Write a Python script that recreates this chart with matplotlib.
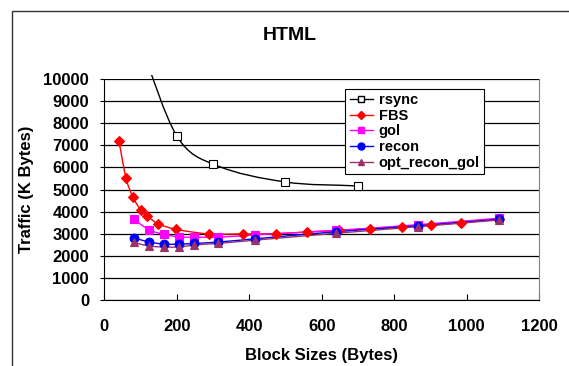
import numpy as np
import matplotlib.pyplot as plt
from matplotlib.path import Path
from matplotlib.patches import PathPatch, Rectangle
from matplotlib.lines import Line2D

plt.rcParams['font.family'] = ['Liberation Sans', 'DejaVu Sans']
plt.rcParams['font.weight'] = 'bold'

# traffic (K bytes) against block size (bytes)
rsync_x = [100, 200, 300, 500, 700]
rsync_y = [11500, 7420, 6150, 5340, 5160]

fbs_x = [40, 60, 79, 100, 119, 148, 197, 290, 382, 473, 560, 648, 734, 823, 903, 986, 1090]
fbs_y = [7200, 5500, 4650, 4090, 3790, 3450, 3200, 2990, 2990, 3000, 3080, 3150, 3230, 3300, 3390, 3500, 3660]

gol_x = [81, 124, 165, 207, 248, 313, 417, 640, 867, 1090]
gol_y = [3650, 3170, 2970, 2850, 2850, 2840, 2950, 3150, 3410, 3700]

recon_x = [81, 124, 165, 207, 248, 313, 417, 640, 867, 1090]
recon_y = [2820, 2620, 2530, 2530, 2560, 2620, 2770, 3090, 3360, 3650]

opt_x = [81, 124, 165, 207, 248, 313, 417, 640, 867, 1090]
opt_y = [2610, 2440, 2400, 2400, 2490, 2560, 2710, 3020, 3320, 3620]

series = [
    ('rsync', rsync_x, rsync_y, 'black', 's', 'white'),
    ('FBS', fbs_x, fbs_y, '#FF0000', 'D', '#FF0000'),
    ('gol', gol_x, gol_y, '#FF00FF', 's', '#FF00FF'),
    ('recon', recon_x, recon_y, '#0000FF', 'o', '#0000FF'),
    ('opt_recon_gol', opt_x, opt_y, '#993366', '^', '#993366'),
]


def smooth_path(xs, ys):
    # cubic bezier segments, slopes from neighbouring points (hermite in x)
    x = np.asarray(xs, float)
    y = np.asarray(ys, float)
    n = len(x)
    m = np.empty(n)
    m[0] = (y[1] - y[0]) / (x[1] - x[0])
    m[-1] = (y[-1] - y[-2]) / (x[-1] - x[-2])
    m[1:-1] = (y[2:] - y[:-2]) / (x[2:] - x[:-2])
    verts = [(x[0], y[0])]
    codes = [Path.MOVETO]
    for i in range(n - 1):
        h = (x[i + 1] - x[i]) / 3
        verts += [(x[i] + h, y[i] + m[i] * h),
                  (x[i + 1] - h, y[i + 1] - m[i + 1] * h),
                  (x[i + 1], y[i + 1])]
        codes += [Path.CURVE4] * 3
    return Path(verts, codes)


fig = plt.figure(figsize=(5.69, 3.66), dpi=100)
ax = fig.add_axes([104.4 / 569, 66 / 366, 434.6 / 569, 221 / 366])

ax.set_xlim(0, 1200)
ax.set_ylim(0, 10000)
ax.set_xticks(np.arange(0, 1201, 200))
ax.set_yticks(np.arange(0, 10001, 1000))
ax.yaxis.grid(True, color='black', linewidth=0.9)
ax.set_axisbelow(True)
ax.tick_params(axis='x', direction='in', length=4, labelsize=12, pad=13.5)
ax.tick_params(axis='y', direction='out', length=3, labelsize=12, pad=8)
for lab in ax.get_xticklabels() + ax.get_yticklabels():
    lab.set_fontweight('bold')

ax.spines['top'].set_visible(False)
ax.spines['right'].set_color('#808080')
ax.spines['left'].set_color('black')
ax.spines['bottom'].set_color('black')

clip = Rectangle((0, 0), 1, 1.02, transform=ax.transAxes)
handles = []
for name, xs, ys, col, mk, face in series:
    line = PathPatch(smooth_path(xs, ys), facecolor='none', edgecolor=col, linewidth=1.0, zorder=2)
    ax.add_patch(line)
    line.set_clip_path(clip)
    ax.plot(xs, ys, linestyle='none', marker=mk, markersize=6.3 if mk != 'D' else 5.3,
            markerfacecolor=face, markeredgecolor=col, markeredgewidth=0.8, zorder=3)
    handles.append(Line2D([], [], color=col, linewidth=1.0, marker=mk,
                          markersize=5 if mk != 'D' else 4.5,
                          markerfacecolor=face, markeredgecolor=col))

leg = ax.legend(handles, [s[0] for s in series], loc='upper left',
                bbox_to_anchor=(0.554, 0.957), frameon=True, fancybox=False,
                edgecolor='black', framealpha=1, fontsize=10.5, handlelength=1.6,
                handletextpad=0.4, labelspacing=0.12, borderpad=0.3,
                borderaxespad=0)
leg.get_frame().set_linewidth(0.8)
for t in leg.get_texts():
    t.set_fontweight('bold')

ax.set_xlabel('Block Sizes (Bytes)', fontsize=12, fontweight='bold', labelpad=10.5)
ax.set_ylabel('Traffic (K Bytes)', fontsize=12, fontweight='bold', labelpad=7)
fig.text(290 / 569, 1 - 35 / 366, 'HTML', ha='center', va='center',
         fontsize=14, fontweight='bold')

# chart frame
fig.patches.append(Rectangle((12 / 569, -0.1), 1.2, 1.1 - 11 / 366, transform=fig.transFigure,
                             facecolor='none', edgecolor='#333333', linewidth=1.0))

fig.savefig('out.png', dpi=100)
